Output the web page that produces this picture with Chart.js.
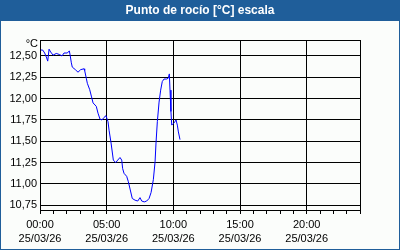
<!DOCTYPE html>
<html><head><meta charset="utf-8">
<script src="https://cdn.jsdelivr.net/npm/chart.js@4/dist/chart.umd.min.js"></script>
<style>html,body{margin:0;padding:0;background:#fff}#w{width:400px;height:250px;position:relative}</style>
</head><body><div id="w"><canvas id="c" width="400" height="250"></canvas></div>
<script>
const titleText = 'Punto de rocío [°C] escala';
const unitLabel = '°C';
const hours = [0,0.2,0.35,0.5,0.58,0.68,0.8,0.98,1.22,1.48,1.65,1.8,2.05,2.2,2.27,2.35,2.42,2.65,2.85,3.05,3.3,3.35,3.47,3.55,3.73,3.85,3.98,4.22,4.35,4.5,4.65,4.8,4.95,5.1,5.18,5.33,5.5,5.68,5.83,6.0,6.13,6.2,6.3,6.5,6.62,6.77,6.92,7.13,7.33,7.5,7.63,7.82,8.0,8.18,8.33,8.5,8.63,8.7,8.8,8.93,9.05,9.17,9.3,9.5,9.62,9.7,9.75,9.82,9.88,10.0,10.13,10.2,10.3,10.38,10.5];
const dewPoint = [12.57,12.57,12.535,12.477,12.44,12.58,12.547,12.51,12.53,12.516,12.5,12.535,12.535,12.56,12.5,12.42,12.37,12.34,12.31,12.34,12.35,12.33,12.24,12.18,12.105,12.03,11.95,11.91,11.83,11.76,11.75,11.78,11.8,11.73,11.63,11.48,11.28,11.25,11.28,11.31,11.28,11.18,11.125,11.09,11.03,10.93,10.83,10.81,10.8,10.84,10.8,10.79,10.8,10.83,10.9,11.05,11.26,11.48,11.73,11.96,12.1,12.2,12.23,12.23,12.24,12.29,12.1,11.85,11.69,11.71,11.73,11.75,11.69,11.61,11.52];
const yTicks = [10.75,11.00,11.25,11.50,11.75,12.00,12.25,12.50];
const xTickHours = [0,5,10,15,20];
const xTickTimes = ['00:00','05:00','10:00','15:00','20:00'];
const xTickDate = '25/03/26';
const yMin = 10.695, yMax = 12.6875, xMin = 0, xMax = 24;

const FONT = 'Liberation Sans';
const frame = {
  id:'frame',
  beforeDraw(chart){
    const c = chart.ctx, W = chart.width, H = chart.height;
    c.save();
    c.fillStyle = '#fbfdfb'; c.fillRect(0,0,W,H);
    c.fillStyle = '#1f5e9a'; c.fillRect(0,0,W,21);
    c.strokeStyle = '#1f5e9a'; c.lineWidth = 1; c.strokeRect(0.5,0.5,W-1,H-1);
    c.fillStyle = '#ffffff'; c.font = 'bold 12px "' + FONT + '"';
    c.textAlign = 'center'; c.textBaseline = 'middle';
    c.fillText(titleText, W/2, 10.5);
    c.restore();
  },
  afterDraw(chart){
    const c = chart.ctx, a = chart.chartArea;
    c.save();
    c.strokeStyle = '#000'; c.lineWidth = 1; c.setLineDash([]);
    c.strokeRect(Math.round(a.left)+0.5, Math.round(a.top)+0.5, Math.round(a.right-a.left), Math.round(a.bottom-a.top));
    c.fillStyle = '#000'; c.font = '11px "' + FONT + '"';
    c.textAlign = 'right'; c.textBaseline = 'middle';
    c.fillText(unitLabel, a.left - 2, a.top + 4);
    c.restore();
  }
};

new Chart(document.getElementById('c'), {
  type:'line',
  data:{ datasets:[{ data: hours.map((h,i)=>({x:h,y:dewPoint[i]})), borderColor:'#0000ff', borderWidth:1, pointRadius:0, tension:0, fill:false }]},
  options:{
    responsive:false, animation:false, devicePixelRatio:1,
    layout:{ padding:{ top:40, right:40, left:0, bottom:0 } },
    plugins:{ legend:{display:false}, title:{display:false}, tooltip:{enabled:false} },
    scales:{
      x:{ type:'linear', min:xMin, max:xMax,
        afterBuildTicks(s){ const t=[]; for(let h=xMin; h<=xMax; h++) t.push({value:h}); s.ticks=t; },
        afterFit(s){ s.height = 40; },
        border:{display:false},
        grid:{ drawTicks:true, tickLength:4, lineWidth:1, borderDash:[3,3],
          color:(ctx)=>{ const v=ctx.tick&&ctx.tick.value; return (v%5===0 && v>xMin && v<xMax)?'#000':'rgba(0,0,0,0)'; },
          tickColor:'#000' },
        ticks:{ autoSkip:false, maxRotation:0, padding:4, color:'#000', font:{family:FONT,size:11,lineHeight:1.3},
          callback:(v)=>{ const i = xTickHours.indexOf(v); return i>=0 ? [xTickTimes[i], xTickDate] : ''; } }
      },
      y:{ type:'linear', min:yMin, max:yMax,
        afterBuildTicks(s){ s.ticks = yTicks.map(v=>({value:v})); },
        afterFit(s){ s.width = 40; },
        border:{display:false},
        grid:{ drawTicks:false, color:'#000', lineWidth:1, borderDash:[3,3] },
        ticks:{ padding:3, color:'#000', font:{family:FONT,size:11},
          callback:(v)=> Number(v).toFixed(2).replace('.',',') }
      }
    }
  },
  plugins:[frame]
});
</script></body></html>
